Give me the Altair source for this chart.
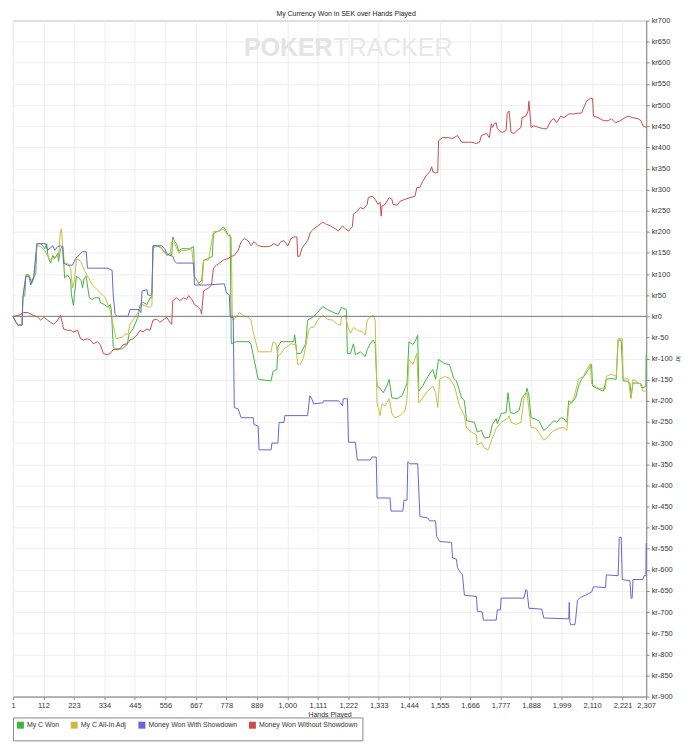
import altair as alt
import pandas as pd

SERIES = ["My C Won", "My C All-In Adj", "Money Won With Showdown", "Money Won Without Showdown"]
COLORS = ["#42b442", "#c8bd40", "#6666d8", "#c84c4c"]

HAND_TICKS = [1, 112, 223, 334, 445, 556, 667, 778, 889, 1000, 1111, 1222,
              1333, 1444, 1555, 1666, 1777, 1888, 1999, 2110, 2221, 2307]
KR_TICKS = list(range(-900, 750, 50))

# My C Won
won_hands = [1, 12, 19, 34, 37, 44, 48, 59, 70, 77, 84, 88, 102, 117, 124, 127, 131, 138, 146, 153,
             164, 167, 174, 182, 185, 189, 200, 211, 214, 221, 225, 232, 240, 250, 254, 261, 268, 272,
             279, 290, 301, 315, 319, 333, 348, 355, 359, 362, 366, 373, 399, 417, 424, 438, 456, 464,
             474, 489, 500, 507, 511, 518, 536, 554, 561, 572, 579, 583, 590, 597, 605, 615, 633, 644,
             659, 662, 677, 688, 695, 713, 727, 731, 742, 753, 767, 778, 785, 792, 796, 814, 861, 868,
             894, 941, 948, 962, 966, 977, 1024, 1027, 1035, 1049, 1067, 1074, 1093, 1111, 1129, 1147,
             1168, 1186, 1197, 1215, 1219, 1230, 1241, 1248, 1266, 1284, 1291, 1302, 1313, 1320, 1327,
             1338, 1349, 1363, 1371, 1381, 1400, 1418, 1436, 1443, 1457, 1468, 1475, 1479, 1493, 1508,
             1519, 1530, 1540, 1551, 1573, 1591, 1606, 1616, 1635, 1645, 1653, 1682, 1692, 1707, 1718,
             1736, 1747, 1761, 1765, 1779, 1797, 1804, 1812, 1826, 1844, 1855, 1869, 1873, 1880, 1888,
             1898, 1916, 1934, 1945, 1960, 1971, 1981, 1996, 2007, 2018, 2025, 2036, 2050, 2061, 2072,
             2086, 2097, 2108, 2112, 2126, 2151, 2162, 2180, 2198, 2205, 2216, 2223, 2234, 2248, 2252,
             2259, 2277, 2288, 2295, 2306, 2307]
won_kr = [0, -14, -21, -21, 44, 49, 98, 98, 79, 91, 102, 172, 172, 160, 172, 149, 137, 126, 144, 137,
          149, 130, 160, 165, 137, 91, 98, 86, 51, 26, 51, 95, 91, 84, 67, 91, 95, 74,
          44, 40, 44, 44, 33, 28, 21, 28, 16, -19, -72, -77, -77, -67, -42, -30, -2, 28,
          33, 28, 44, 44, 165, 167, 165, 153, 144, 149, 144, 188, 177, 172, 153, 160, 160, 160,
          165, 95, 79, 84, 133, 137, 142, 195, 200, 202, 212, 202, 191, 193, -65, -60, -60, -67,
          -149, -153, -130, -126, -72, -60, -60, -44, -88, -88, -65, -9, -2, 9, 23, 16,
          9, 5, 21, 16, -88, -88, -65, -91, -84, -95, -79, -65, -56, -65, -165,
          -170, -181, -165, -149, -193, -195, -188, -158, -60, -67, -56, -44, -177, -165, -147,
          -135, -126, -149, -102, -112, -114, -147, -153, -193, -200, -247, -251, -274, -270, -288,
          -286, -256, -242, -254, -230, -228, -181, -228, -230, -223, -193, -181, -170, -188, -240,
          -242, -247, -270, -265, -254, -247, -251, -240, -242, -251, -200, -205, -193, -165, -149,
          -137, -126, -114, -165, -170, -177, -149, -147, -149, -56, -56, -153, -153, -158, -193,
          -158, -158, -160, -170, -165, -91]

# My C All-In Adj
adj_hands = [1, 12, 19, 34, 37, 48, 59, 70, 77, 88, 102, 117, 127, 138, 153, 167, 174, 178, 182, 189,
             200, 211, 218, 225, 232, 247, 261, 276, 283, 290, 312, 326, 337, 355, 366, 377, 399, 409,
             420, 427, 438, 456, 471, 500, 507, 511, 525, 543, 554, 572, 579, 590, 605, 615, 633, 652,
             662, 681, 691, 695, 713, 731, 753, 767, 785, 796, 800, 807, 825, 839, 857, 868, 876, 894,
             941, 948, 959, 966, 977, 988, 1013, 1031, 1038, 1049, 1060, 1078, 1085, 1096, 1111, 1121,
             1132, 1147, 1165, 1183, 1194, 1197, 1212, 1219, 1230, 1241, 1255, 1273, 1284, 1291, 1302,
             1313, 1320, 1327, 1338, 1345, 1356, 1371, 1381, 1392, 1410, 1429, 1436, 1443, 1457, 1472,
             1479, 1493, 1511, 1530, 1540, 1548, 1555, 1573, 1591, 1609, 1627, 1645, 1653, 1671, 1689,
             1692, 1707, 1718, 1732, 1747, 1761, 1779, 1801, 1808, 1815, 1833, 1851, 1862, 1873, 1888,
             1906, 1934, 1945, 1963, 1989, 2007, 2018, 2025, 2043, 2061, 2079, 2090, 2104, 2108, 2133,
             2159, 2162, 2180, 2198, 2205, 2220, 2223, 2241, 2252, 2259, 2285, 2295, 2307]
adj_kr = [0, -14, -21, -21, 44, 98, 98, 84, 95, 167, 165, 156, 142, 133, 142, 142, 202, 207, 165, 126,
          126, 114, 67, 84, 137, 130, 109, 91, 84, 74, 60, 51, 44, 14, -19, -53, -49, -42,
          -42, -19, -9, 9, 28, 21, 26, 160, 167, 160, 149, 144, 177, 172, 149, 156, 156, 160,
          95, 74, 81, 133, 133, 200, 202, 207, 191, 188, -7, -7, 9, 2, -2, -9, -37, -84,
          -84, -60, -65, -95, -88, -77, -65, -67, -114, -112, -95, -33, -26, -26, -9, -2,
          2, -7, -9, -19, -21, -2, 2, -21, -40, -26, -33, -37, -44, -9, -2,
          2, -9, -205, -235, -207, -212, -195, -230, -240, -235, -223, -195, -102, -114, -88,
          -205, -193, -177, -165, -181, -216, -149, -142, -147, -165, -212, -235, -265, -274, -281,
          -305, -298, -312, -316, -288, -265, -251, -242, -235, -251, -256, -251, -195, -181, -263,
          -265, -293, -288, -274, -265, -263, -270, -212, -195, -149, -142, -126, -112, -160, -170,
          -172, -142, -137, -142, -53, -53, -149, -147, -195, -149, -160, -177, -177]

# Money Won With Showdown
sd_hands = [1, 12, 19, 34, 37, 48, 59, 66, 77, 88, 120, 127, 146, 153, 164, 174, 182, 185, 200, 218,
            229, 254, 268, 272, 344, 362, 366, 373, 380, 420, 427, 460, 467, 471, 489, 492, 503, 507,
            511, 543, 554, 561, 572, 583, 590, 597, 659, 662, 698, 771, 778, 789, 792, 803, 807, 821,
            832, 876, 879, 894, 897, 941, 944, 966, 970, 988, 991, 1074, 1082, 1089, 1096, 1129, 1132,
            1186, 1194, 1201, 1204, 1219, 1223, 1248, 1255, 1302, 1309, 1324, 1327, 1374, 1378, 1421,
            1425, 1436, 1439, 1447, 1475, 1483, 1511, 1519, 1540, 1544, 1555, 1598, 1602, 1616, 1620,
            1631, 1638, 1645, 1689, 1692, 1710, 1714, 1761, 1765, 1776, 1779, 1862, 1869, 1873, 1880,
            1927, 1934, 2025, 2027, 2029, 2032, 2047, 2050, 2057, 2068, 2086, 2108, 2115, 2159, 2162,
            2205, 2209, 2216, 2220, 2248, 2252, 2256, 2259, 2295, 2299, 2306, 2307]
sd_kr = [0, -14, -21, -21, 44, 95, 95, 74, 95, 172, 172, 156, 167, 156, 165, 167, 165, 126, 121, 121,
         137, 153, 153, 114, 114, 109, 51, 5, 0, 0, 16, 16, 9, 60, 63, 51, 49, 56,
         167, 167, 160, 149, 144, 142, 130, 126, 126, 74, 74, 77, 56, 51, -2, -2, -216, -219,
         -240, -240, -256, -260, -316, -316, -300, -300, -251, -251, -235, -235, -188, -195, -207, -205, -200,
         -200, -205, -212, -195, -195, -298, -298, -340, -340, -333, -333, -430, -430, -461, -461,
         -435, -435, -344, -349, -349, -474, -477, -484, -484, -521, -533, -535, -572, -575, -595,
         -607, -612, -660, -663, -698, -700, -719, -719, -695, -695, -667, -667, -647, -649, -691,
         -693, -714, -716, -677, -723, -730, -730, -719, -672, -665, -660, -653, -640, -642, -612,
         -614, -523, -523, -623, -626, -667, -667, -623, -623, -614, -614, -537]

# Money Won Without Showdown
nsd_hands = [1, 19, 30, 41, 55, 66, 77, 91, 102, 113, 127, 138, 149, 164, 174, 182, 185, 200, 211, 221,
             236, 247, 258, 272, 283, 294, 308, 319, 330, 344, 355, 366, 380, 391, 402, 417, 427, 438,
             453, 464, 474, 489, 500, 511, 525, 536, 547, 561, 572, 579, 583, 597, 608, 623, 633, 641,
             652, 662, 677, 684, 688, 695, 713, 724, 731, 742, 753, 767, 785, 796, 807, 821, 832, 843,
             857, 868, 879, 894, 912, 930, 941, 951, 966, 977, 988, 1002, 1013, 1024, 1035, 1038, 1045,
             1053, 1060, 1074, 1085, 1096, 1111, 1129, 1139, 1157, 1175, 1186, 1201, 1212, 1223, 1237,
             1241, 1255, 1266, 1277, 1291, 1295, 1309, 1320, 1331, 1338, 1342, 1345, 1356, 1371, 1381,
             1385, 1400, 1410, 1429, 1447, 1465, 1472, 1483, 1493, 1508, 1519, 1526, 1530, 1540, 1548,
             1551, 1566, 1584, 1602, 1620, 1635, 1653, 1671, 1689, 1700, 1707, 1725, 1736, 1743, 1747,
             1754, 1761, 1765, 1772, 1783, 1797, 1801, 1808, 1815, 1826, 1837, 1851, 1855, 1869, 1877,
             1880, 1888, 1898, 1916, 1934, 1945, 1960, 1971, 1981, 1996, 2007, 2025, 2043, 2061, 2072,
             2079, 2090, 2104, 2112, 2115, 2133, 2151, 2169, 2180, 2195, 2213, 2230, 2241, 2259, 2277,
             2288, 2295, 2307]
nsd_kr = [0, 2, 5, 9, 9, 5, 2, -2, -9, -2, -9, -14, -19, -9, 2, -19, -30, -33, -33, -37,
          -33, -53, -56, -53, -56, -65, -60, -67, -88, -91, -88, -79, -79, -77, -67, -65, -56, -53,
          -44, -33, -37, -30, -33, -9, -7, -14, -9, -2, -14, -19, 37, 44, 37, 44, 40, 49,
          40, 28, 21, 16, 5, 60, 67, 74, 114, 121, 126, 133, 137, 142, 144, 156, 177, 184,
          179, 167, 177, 167, 165, 165, 167, 172, 167, 177, 179, 167, 184, 188, 188, 142, 142,
          160, 167, 179, 200, 207, 214, 223, 219, 214, 207, 202, 214, 207, 202, 212,
          242, 249, 258, 254, 265, 281, 284, 277, 265, 270, 237, 261, 265, 281, 277,
          265, 263, 272, 277, 281, 284, 305, 305, 319, 335, 342, 354, 342, 340, 340,
          416, 423, 423, 421, 428, 412, 412, 412, 409, 412, 428, 433, 423, 456, 447,
          456, 458, 444, 440, 435, 440, 481, 486, 435, 433, 440, 447, 470, 474, 486,
          509, 447, 451, 447, 444, 444, 463, 468, 458, 474, 470, 479, 479, 481, 481,
          493, 509, 516, 516, 474, 470, 463, 463, 468, 458, 463, 470, 474, 470, 468,
          463, 451, 447]

frames = []
for name, hands, kr in zip(SERIES,
                           [won_hands, adj_hands, sd_hands, nsd_hands],
                           [won_kr, adj_kr, sd_kr, nsd_kr]):
    frames.append(pd.DataFrame({"hand": hands, "kr": kr, "series": name}))
df = pd.concat(frames, ignore_index=True)
zero_df = pd.DataFrame({"kr": [0]})

FONT = "Liberation Sans"
NARROW = "Liberation Sans Narrow, Liberation Sans, sans-serif"
W, H = 636, 679

x_enc = alt.X(
    "hand:Q",
    title="Hands Played",
    scale=alt.Scale(domain=[1, 2307], nice=False, zero=False),
    axis=alt.Axis(values=HAND_TICKS, format=",d", labelFlush=False, labelOverlap=False,
                  tickSize=3, labelPadding=2, titlePadding=2),
)
y_enc = alt.Y(
    "kr:Q",
    title="kr",
    scale=alt.Scale(domain=[-900, 700], nice=False, zero=False),
    axis=alt.Axis(orient="right", values=KR_TICKS, labelExpr="'kr' + datum.value",
                  labelOverlap=False, labelFlush=False, tickSize=3, labelPadding=2,
                  titlePadding=2),
)

lines = (
    alt.Chart(df)
    .mark_line(strokeWidth=1)
    .encode(
        x=x_enc,
        y=y_enc,
        color=alt.Color(
            "series:N",
            scale=alt.Scale(domain=SERIES, range=COLORS),
            legend=alt.Legend(
                title=None, orient="none", legendX=0, legendY=H + 21, direction="horizontal",
                columns=4, symbolType="square", symbolSize=4, symbolStrokeWidth=5,
                strokeColor="#888888", padding=4, columnPadding=3, labelOffset=3,
                labelFontSize=7, labelFont=FONT, labelColor="#333333",
            ),
        ),
    )
)

zero_line = alt.Chart(zero_df).mark_rule(color="#777777", strokeWidth=1).encode(y=y_enc)

# faint watermark behind the plot
mark_poker = alt.Chart().mark_text(
    text="POKER", font=FONT, fontSize=25, fontWeight="bold", color="#e4e4e4", align="right",
    baseline="middle",
).encode(x=alt.value(321), y=alt.value(28))
mark_tracker = alt.Chart().mark_text(
    text="TRACKER", font=FONT, fontSize=25, color="#e8e8e8", align="left", baseline="middle",
).encode(x=alt.value(322), y=alt.value(28))

chart = (
    alt.layer(mark_poker, mark_tracker, lines, zero_line)
    .properties(
        width=W,
        height=H,
        padding={"left": 2, "top": 0, "right": 0, "bottom": 0},
        title=alt.Title("My Currency Won in SEK over Hands Played", fontSize=7, fontWeight="normal",
                        font=FONT, color="#222222", anchor="middle", frame="bounds", offset=0),
    )
    .configure_view(stroke="#999999", strokeWidth=1)
    .configure_axis(
        labelFont=NARROW, titleFont=FONT, labelFontSize=7.5, titleFontSize=7, titleFontWeight="normal",
        labelColor="#333333", titleColor="#333333", domainColor="#888888", tickColor="#888888",
        gridColor="#eeeeee",
    )
)

chart.save("out.html", embed_options={"renderer": "svg", "actions": False})
